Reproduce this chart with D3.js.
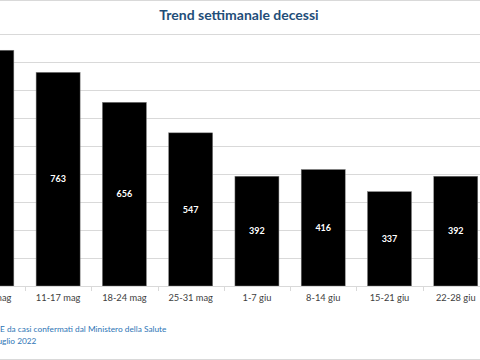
<!DOCTYPE html>
<html><head><meta charset="utf-8">
<script src="https://cdn.jsdelivr.net/npm/d3@7"></script>
<style>body{margin:0;background:#fff}svg{display:block}</style>
</head><body>
<script>
const categories = ["4-10 mag","11-17 mag","18-24 mag","25-31 mag","1-7 giu","8-14 giu","15-21 giu","22-28 giu"];
const values = [842, 763, 656, 547, 392, 416, 337, 392];
const yTicks = [0,100,200,300,400,500,600,700,800,900];
const title = "Trend settimanale decessi";
const footer = ["E da casi confermati dal Ministero della Salute", "luglio 2022"];

const W = 480, H = 360;
const svg = d3.select("body").append("svg").attr("width", W).attr("height", H);
const font = "Lato, 'Open Sans', sans-serif";

const x = d3.scaleBand().domain(categories).range([-41.3, 488.9]).paddingInner(0.336).paddingOuter(0.168);
const y = d3.scaleLinear().domain([0, 900]).range([286, 34]);

// borders
svg.append("line").attr("x1",0).attr("x2",W).attr("y1",0.5).attr("y2",0.5).attr("stroke","#d9d9d9");
svg.append("line").attr("x1",0).attr("x2",W).attr("y1",359.5).attr("y2",359.5).attr("stroke","#d9d9d9");

// grid
svg.append("g").selectAll("line").data(yTicks).join("line")
  .attr("x1",0).attr("x2",W)
  .attr("y1",d=>Math.round(y(d))+0.5).attr("y2",d=>Math.round(y(d))+0.5)
  .attr("stroke","#d9d9d9").attr("stroke-width",1);

// title
svg.append("text").attr("x",239).attr("y",20).attr("text-anchor","middle")
  .attr("font-family",font).attr("font-weight","bold").attr("font-size",14)
  .attr("fill","#1f4e79").text(title);

// bars
svg.append("g").selectAll("rect").data(values).join("rect")
  .attr("x",(d,i)=>x(categories[i])).attr("width",x.bandwidth())
  .attr("y",d=>y(d)).attr("height",d=>y(0)-y(d))
  .attr("fill","#000").attr("stroke","#7f7f7f").attr("stroke-width",0.5);

// bar labels
svg.append("g").selectAll("text").data(values).join("text")
  .attr("x",(d,i)=>x(categories[i])+x.bandwidth()/2)
  .attr("y",d=>(y(d)+y(0))/2).attr("dy","0.35em").attr("text-anchor","middle")
  .attr("font-family",font).attr("font-weight","bold").attr("font-size",9)
  .attr("fill","#fff").text(d=>d);

// x axis
const xa = svg.append("g");
xa.append("line").attr("x1",0).attr("x2",W).attr("y1",286.5).attr("y2",286.5).attr("stroke","#d9d9d9");
const bounds = categories.map(c=>x(c)-x.step()*x.paddingInner()/2).concat([x(categories[categories.length-1])+x.bandwidth()+x.step()*x.paddingInner()/2]);
xa.selectAll("line.tk").data(bounds).join("line").attr("class","tk")
  .attr("x1",d=>Math.round(d)+0.5).attr("x2",d=>Math.round(d)+0.5)
  .attr("y1",286).attr("y2",291).attr("stroke","#d9d9d9");
xa.selectAll("text").data(categories).join("text")
  .attr("x",d=>x(d)+x.bandwidth()/2).attr("y",298).attr("dy","0.35em")
  .attr("text-anchor","middle").attr("font-family",font).attr("font-size",9.3)
  .attr("fill","#404040").text(d=>d);

// footer
svg.append("text").attr("x",0).attr("y",329).attr("dy","0.35em")
  .attr("font-family",font).attr("font-size",8.3).attr("fill","#2e75b6").text(footer[0]);
svg.append("text").attr("x",-4.5).attr("y",341).attr("dy","0.35em")
  .attr("font-family",font).attr("font-size",8.3).attr("fill","#2e75b6").text(footer[1]);
</script>
</body></html>
